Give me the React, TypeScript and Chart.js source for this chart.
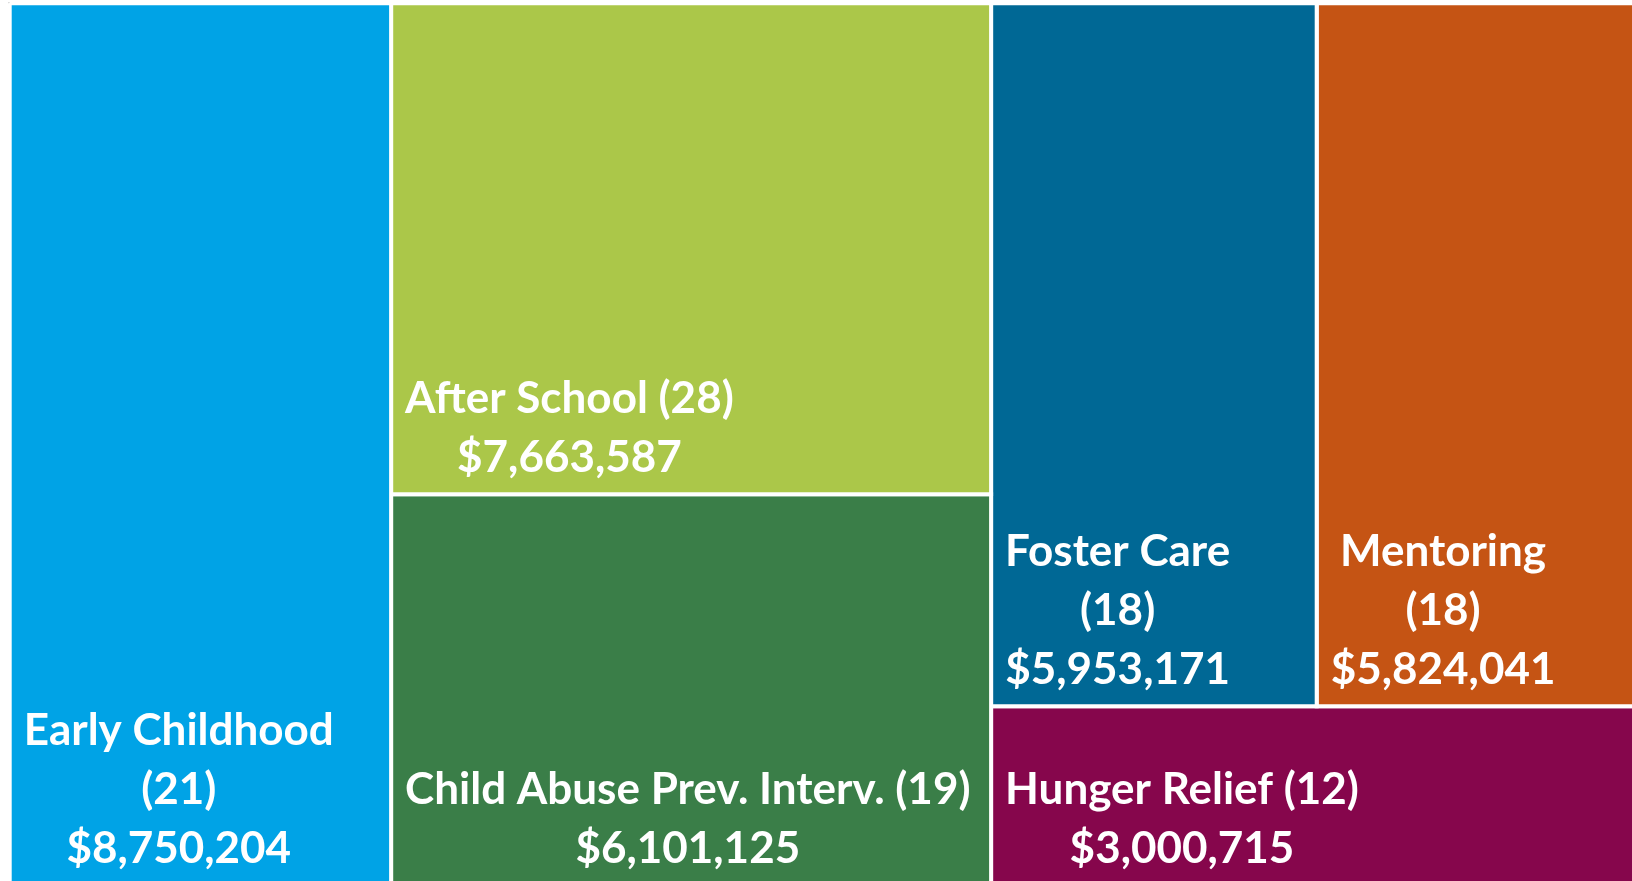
import React, { useEffect, useRef } from "react";
import { Chart, registerables } from "chart.js";

Chart.register(...registerables);

// ---- data ----
const categories = [
  "Early Childhood",
  "After School",
  "Child Abuse Prev. Interv.",
  "Foster Care",
  "Mentoring",
  "Hunger Relief",
];
const counts = [21, 28, 19, 18, 18, 12];
const amounts = [8750204, 7663587, 6101125, 5953171, 5824041, 3000715];
const colors = ["#00A3E6", "#ABC749", "#3A7E48", "#006895", "#C55414", "#86064C"];
const wrapCount = [true, false, false, true, true, false];

// treemap grouping (h = side by side, v = stacked)
type Node = number | { dir: "h" | "v"; children: Node[] };
const layoutTree: Node = {
  dir: "h",
  children: [
    0,
    { dir: "v", children: [1, 2] },
    { dir: "v", children: [{ dir: "h", children: [3, 4] }, 5] },
  ],
};

type Rect = { x0: number; y0: number; x1: number; y1: number };

function sumNode(n: Node): number {
  return typeof n === "number" ? amounts[n] : n.children.reduce((s, c) => s + sumNode(c), 0);
}

function layout(n: Node, x0: number, y0: number, x1: number, y1: number, out: Rect[]) {
  if (typeof n === "number") {
    out[n] = { x0, y0, x1, y1 };
    return;
  }
  const total = sumNode(n);
  let pos = n.dir === "h" ? x0 : y0;
  for (const c of n.children) {
    const f = sumNode(c) / total;
    if (n.dir === "h") {
      const w = (x1 - x0) * f;
      layout(c, pos, y0, pos + w, y1, out);
      pos += w;
    } else {
      const h = (y1 - y0) * f;
      layout(c, x0, pos, x1, pos + h, out);
      pos += h;
    }
  }
}

const rects: Rect[] = [];
layout(layoutTree, 0, 0, 1, 1, rects);

const money = (v: number) => "$" + v.toLocaleString("en-US");

const FONT = "bold 44px Lato";
const LINE_H = 59;

const borderPlugin = {
  id: "outerBorder",
  beforeDraw(chart: any) {
    const { ctx } = chart;
    ctx.save();
    ctx.strokeStyle = "#dcdcdc";
    ctx.lineWidth = 1;
    ctx.strokeRect(8.5, 2.5, chart.width + 10, chart.height + 10);
    ctx.restore();
  },
};

const labelPlugin = {
  id: "treemapLabels",
  afterDatasetsDraw(chart: any) {
    const { ctx } = chart;
    const xs = chart.scales.x;
    const ys = chart.scales.y;
    ctx.save();
    ctx.font = FONT;
    ctx.fillStyle = "#ffffff";
    ctx.textBaseline = "alphabetic";
    ctx.textAlign = "center";
    rects.forEach((r, i) => {
      const left = xs.getPixelForValue(r.x0);
      const bottom = ys.getPixelForValue(r.y1);
      const lines = wrapCount[i]
        ? [categories[i], `(${counts[i]})`, money(amounts[i])]
        : [`${categories[i]} (${counts[i]})`, money(amounts[i])];
      const bw = Math.max(...lines.map((l) => ctx.measureText(l).width));
      const cx = left + 14 + bw / 2;
      const lastBase = bottom - 22;
      lines.forEach((l, k) => {
        ctx.fillText(l, cx, lastBase - (lines.length - 1 - k) * LINE_H);
      });
    });
    ctx.restore();
  },
};

export default function App() {
  const ref = useRef<HTMLCanvasElement | null>(null);

  useEffect(() => {
    if (!ref.current) return;
    const datasets = rects.map((r, i) => ({
      label: categories[i],
      data: [
        { x: r.x0, y: r.y0 },
        { x: r.x1, y: r.y0 },
        { x: r.x1, y: r.y1 },
        { x: r.x0, y: r.y1 },
        { x: r.x0, y: r.y0 },
      ],
      backgroundColor: colors[i],
      borderColor: "#ffffff",
      borderWidth: 4,
      borderJoinStyle: "miter" as const,
      fill: "shape" as const,
      pointRadius: 0,
      pointHoverRadius: 0,
      tension: 0,
      clip: false as const,
    }));
    const chart = new Chart(ref.current, {
      type: "line",
      data: { datasets },
      options: {
        animation: false,
        responsive: false,
        layout: { padding: { left: 9.7, top: 3.3, right: 0, bottom: 0 } },
        scales: {
          x: { type: "linear", min: 0, max: 0.998, display: false },
          y: { type: "linear", min: 0, max: 0.9951, reverse: true, display: false },
        },
        plugins: {
          legend: { display: false },
          tooltip: { enabled: false },
        },
      },
      plugins: [borderPlugin, labelPlugin],
    });
    return () => chart.destroy();
  }, []);

  return (
    <div style={{ position: "fixed", left: 0, top: 0, width: 1632, height: 881, background: "#fff" }}>
      <canvas ref={ref} width={1632} height={881} style={{ width: 1632, height: 881, display: "block" }} />
    </div>
  );
}
